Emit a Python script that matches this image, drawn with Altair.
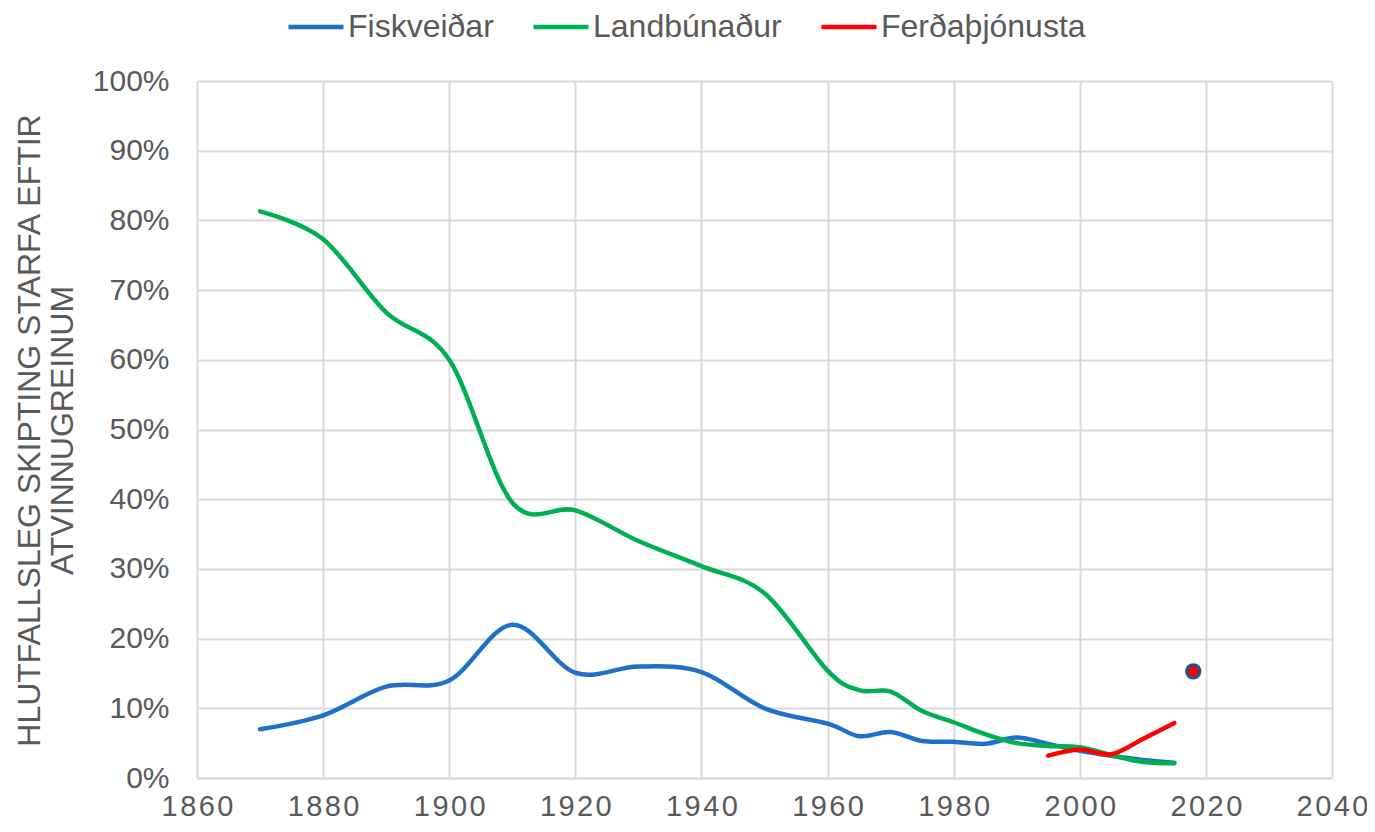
import altair as alt
import pandas as pd

years = [1870, 1880, 1890, 1900, 1910, 1920, 1930, 1940, 1950, 1960, 1965,
         1970, 1975, 1980, 1985, 1990, 1995, 2000, 2005, 2010, 2015]
fiskveidar = [7.0, 9.0, 13.1, 14.0, 22.0, 15.1, 16.0, 15.2, 10.0, 7.8, 6.0,
              6.6, 5.3, 5.2, 4.9, 5.8, 4.9, 3.9, 3.2, 2.6, 2.2]
landbunadur = [81.3, 77.3, 66.8, 60.0, 39.5, 38.4, 34.0, 30.4, 26.5, 15.4, 12.6,
               12.4, 9.6, 8.0, 6.3, 5.0, 4.6, 4.4, 3.3, 2.3, 2.1]
ferd_years = [1995, 2000, 2005, 2010, 2015]
ferdathjonusta = [3.2, 4.1, 3.4, 5.6, 7.9]
dot_year = [2018]
dot_value = [15.3]

series_names = ["Fiskveiðar", "Landbúnaður", "Ferðaþjónusta"]
series_colors = ["#1f70c8", "#00b050", "#ff0000"]
x_ticks = [1860, 1880, 1900, 1920, 1940, 1960, 1980, 2000, 2020, 2040]
y_ticks = [0, 0.1, 0.2, 0.3, 0.4, 0.5, 0.6, 0.7, 0.8, 0.9, 1.0]

rows = []
for y, v in zip(years, fiskveidar):
    rows.append({"year": y, "value": v / 100, "series": series_names[0]})
for y, v in zip(years, landbunadur):
    rows.append({"year": y, "value": v / 100, "series": series_names[1]})
for y, v in zip(ferd_years, ferdathjonusta):
    rows.append({"year": y, "value": v / 100, "series": series_names[2]})
df = pd.DataFrame(rows)
dot_df = pd.DataFrame({"year": dot_year, "value": [v / 100 for v in dot_value]})

FONT = "Liberation Sans"
GREY = "#595959"

x_enc = alt.X("year:Q", scale=alt.Scale(domain=[1860, 2040], nice=False, zero=False),
              axis=alt.Axis(values=x_ticks, format="d", title=None, labelFontSize=29,
                            labelExpr="join(split(datum.label, ''), '\u200a')",
                            labelColor=GREY, labelFont=FONT, labelPadding=14,
                            ticks=False, grid=True, gridColor="#d9d9d9", gridWidth=2,
                            domainColor="#d9d9d9", domainWidth=2, labelFlush=False))
y_enc = alt.Y("value:Q", scale=alt.Scale(domain=[0, 1], nice=False),
              axis=alt.Axis(values=y_ticks, format=".0%",
                            title=["HLUTFALLSLEG SKIPTING STARFA EFTIR", "ATVINNUGREINUM"],
                            titleFontSize=32, titleFont=FONT, titleFontWeight="normal",
                            titleColor=GREY, titleLineHeight=33, titleAngle=-90,
                            titleBaseline="alphabetic", titleX=-158, titleY=349,
                            titleAlign="center",
                            labelFontSize=30, labelColor=GREY, labelFont=FONT,
                            labelPadding=28, ticks=False, domain=False, grid=True,
                            gridColor="#d9d9d9", gridWidth=2, labelFlush=False))

lines = alt.Chart(df).mark_line(interpolate="cardinal", strokeWidth=4.5, strokeCap="round").encode(
    x=x_enc,
    y=y_enc,
    color=alt.Color("series:N",
                    scale=alt.Scale(domain=series_names, range=series_colors),
                    sort=series_names,
                    legend=alt.Legend(title=None, orient="none", direction="horizontal",
                                      legendX=89, legendY=-84, symbolType="stroke",
                                      symbolStrokeWidth=4.5, symbolSize=3025,
                                      labelFontSize=32, labelFont=FONT, labelColor=GREY,
                                      labelOffset=2, columnPadding=30, labelLimit=400)),
    detail="series:N",
)

dot = alt.Chart(dot_df).mark_point(filled=True, shape="circle", size=180, fill="#ff0000",
                                   stroke="#1f5597", strokeWidth=3, opacity=1).encode(
    x="year:Q", y="value:Q")

chart = alt.layer(lines, dot).properties(
    width=1135, height=697,
    autosize=alt.AutoSizeParams(type="none"),
    padding={"left": 189, "top": 73, "right": 35, "bottom": 46},
).configure_view(stroke=None)

chart.save("out.html", embed_options={"renderer": "svg", "actions": False})
